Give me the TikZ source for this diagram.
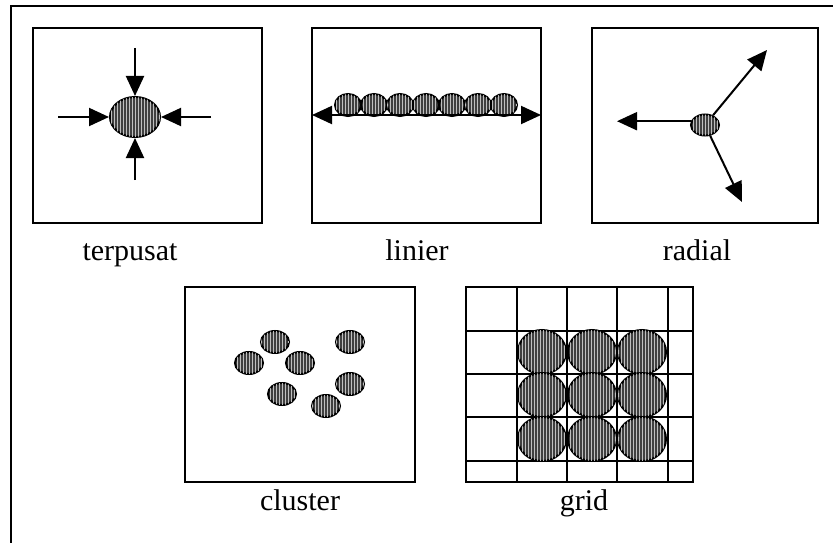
\documentclass[tikz,border=0pt]{standalone}
\usepackage{fontspec}
\setmainfont{Liberation Serif}
\usetikzlibrary{arrows.meta,shapes.geometric,patterns}
\tikzset{
  frame/.style={draw=black, line width=2pt},
  panel/.style={draw=black, line width=2pt},
  blob/.style={ellipse, draw=black, line width=2pt, fill=black!75, inner sep=0pt,
    postaction={pattern=vertical lines, pattern color=black!25}},
  arr/.style={draw=black, line width=2pt, -{Triangle[length=20pt,width=18pt]}},
  darr/.style={draw=black, line width=2pt, {Triangle[length=20pt,width=18pt]}-{Triangle[length=20pt,width=18pt]}},
  lbl/.style={font=\fontsize{30}{32}\selectfont, anchor=base, inner sep=0pt},
  gline/.style={draw=black, line width=1.5pt}
}
\begin{document}
\begin{tikzpicture}[x=1pt,y=-1pt]
\useasboundingbox (0,0) rectangle (833,543);
% outer frame
\draw[frame] (11,543) -- (11,6) -- (833,6);

% ---------- terpusat ----------
\draw[panel] (33,28) rectangle (262,223);
\node[blob, minimum width=50pt, minimum height=40pt] (c1) at (135,117) {};
\coordinate (t1) at (135,48);
\coordinate (b1) at (135,180);
\coordinate (l1) at (58,117);
\coordinate (r1) at (211,117);
\draw[arr] (t1) -- (c1);
\draw[arr] (b1) -- (c1);
\draw[arr] (l1) -- (c1);
\draw[arr] (r1) -- (c1);
\node[lbl] (lab1) at (130,260) {terpusat};

% ---------- linier ----------
\draw[panel] (312,28) rectangle (541,223);
\foreach \i/\x in {1/348,2/374,3/400,4/426,5/452,6/478,7/504}{
  \node[blob, minimum width=26pt, minimum height=22pt] (L\i) at (\x,105) {};
}
\coordinate (la) at (312,115);
\coordinate (lb) at (541,115);
\draw[darr] (la) -- (lb);
\node[lbl] (lab2) at (417,260) {linier};

% ---------- radial ----------
\draw[panel] (592,28) rectangle (818,223);
\node[blob, minimum width=28pt, minimum height=21pt] (rc) at (705,125) {};
\coordinate (rl) at (617,118);
\coordinate (ru) at (767,50);
\coordinate (rd) at (742,202);
\draw[arr] (rc.165) -- (rc.165 -| rl);
\draw[arr] (rc) -- (ru);
\draw[arr] (rc) -- (rd);
\node[lbl] (lab3) at (697,260) {radial};

% ---------- cluster ----------
\draw[panel] (185,287) rectangle (415,482);
\foreach \i/\x/\y in {1/275/342,2/249/363,3/300/363,4/350/342,5/350/384,6/282/394,7/326/406}{
  \node[blob, minimum width=28pt, minimum height=22pt] (K\i) at (\x,\y) {};
}
\node[lbl] (lab4) at (300,510) {cluster};

% ---------- grid ----------
\foreach \x in {517,567,617,668}{
  \draw[gline] (\x,287) -- (\x,482);
}
\foreach \y in {331,374,417,461}{
  \draw[gline] (466,\y) -- (693,\y);
}
\foreach \i/\x in {1/542,2/592,3/642}{
  \foreach \j/\y in {1/352,2/395,3/439}{
    \node[blob, minimum width=48pt, minimum height=44pt] (G\i\j) at (\x,\y) {};
  }
}
\draw[panel] (466,287) rectangle (693,482);
\node[lbl] (lab5) at (584,510) {grid};
\end{tikzpicture}
\end{document}
